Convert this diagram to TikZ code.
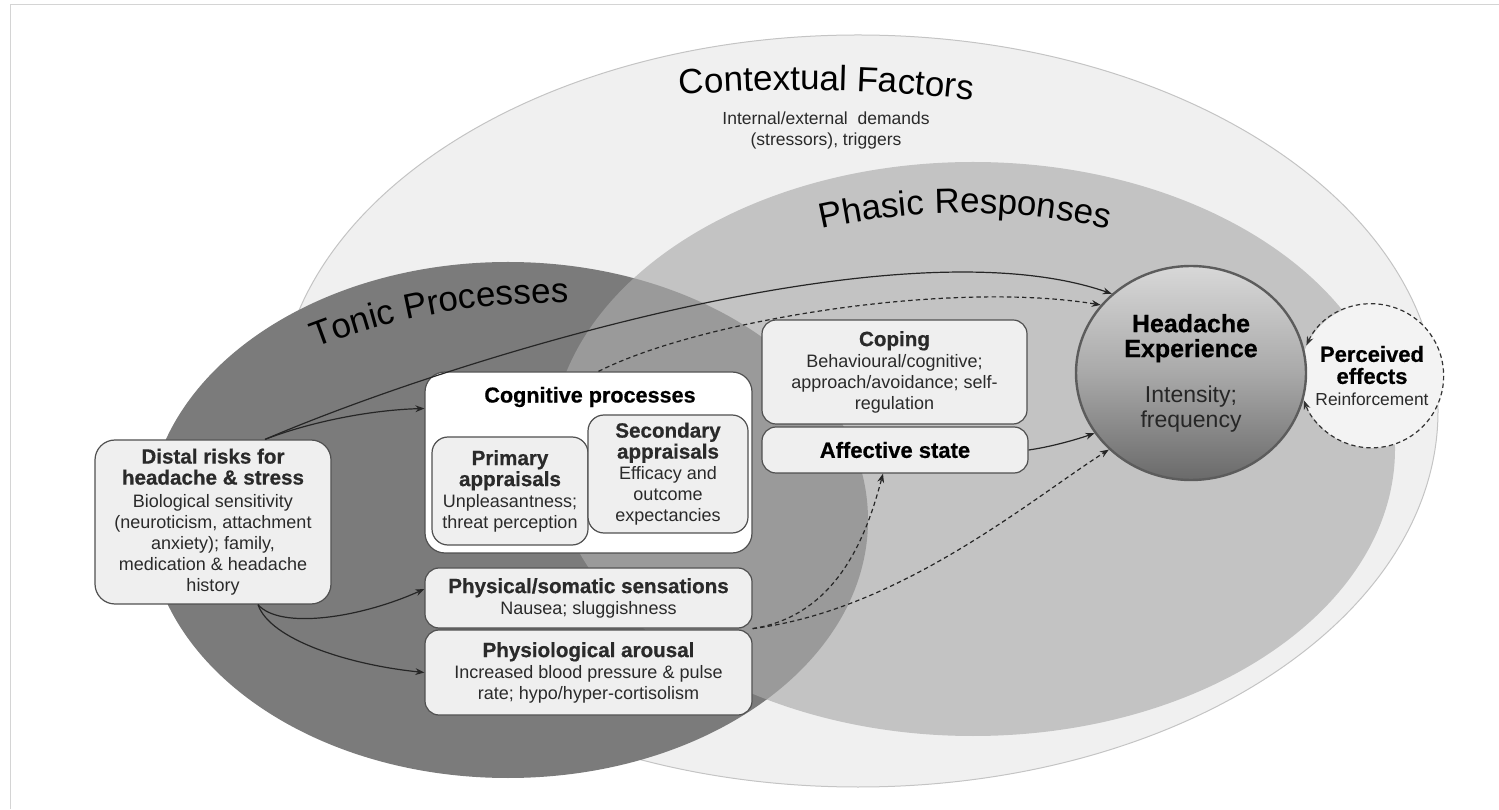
\documentclass[tikz,border=0pt]{standalone}
\usepackage{fontspec}
\setmainfont{Liberation Sans}[BoldFeatures={FakeBold=0.6}]
\usetikzlibrary{shapes.geometric,arrows.meta,decorations.text,calc}

\definecolor{framec}{HTML}{D4D4D4}
\definecolor{ctxfill}{HTML}{F0F0F0}
\definecolor{ctxline}{HTML}{C4C4C4}
\definecolor{phasicc}{HTML}{ABABAB}
\definecolor{tonicc}{HTML}{7B7B7B}
\definecolor{boxfill}{HTML}{EFEFEF}
\definecolor{boxline}{HTML}{505050}
\definecolor{bodytxt}{HTML}{2A2A2A}
\definecolor{hdtop}{HTML}{D8D8D8}
\definecolor{hdmid}{HTML}{A9A9A9}
\definecolor{hdbot}{HTML}{6A6A6A}
\definecolor{hdline}{HTML}{5C5C5C}
\definecolor{pefill}{HTML}{F3F3F3}

\newcommand\dgbody{\fontsize{9pt}{10.5pt}\selectfont}
\newcommand\dghead{\fontsize{10.3pt}{10.5pt}\selectfont\bfseries}
\newcommand\dgtitle{\fontsize{17.5pt}{20pt}\selectfont}

\begin{document}
\begin{tikzpicture}[x=0.5pt,y=0.5pt,
  box/.style={draw=boxline, line width=0.6pt, fill=boxfill, rounded corners=7pt,
    inner sep=0pt, align=center, font=\dgbody, text=bodytxt},
  arr/.style={-{Stealth[length=4.5pt,width=3.4pt]}, line width=0.6pt, draw=black!85},
  darr/.style={arr, dash pattern=on 2.2pt off 1.6pt},
  arctitle/.style={decorate, decoration={text along path, text align=center, text={#1}}}
]
\useasboundingbox (0,0) rectangle (1499,809);

% page frame
\draw[framec, line width=0.6pt] (10.5,0) -- (10.5,804.5) -- (1499,804.5);

% nested context ellipses
\filldraw[fill=ctxfill, draw=ctxline, line width=0.5pt] (858,398) ellipse [x radius=580, y radius=376];
\fill[tonicc] (508,289) ellipse [x radius=360, y radius=258];
\fill[phasicc, fill opacity=0.65] (973,360) ellipse [x radius=422, y radius=287];

% curved region titles
\path[arctitle={|\dgtitle\color{black}|Contextual Factors}] (800,-781) ++(101:1500) arc[start angle=101, end angle=77, radius=1500];
\path[arctitle={|\dgtitle\color{black}|Phasic Responses}] (965,-54) ++(110:650) arc[start angle=110, end angle=70, radius=650];
\path[arctitle={|\dgtitle\color{black}|Tonic Processes}] (555,-159) ++(125:665) arc[start angle=125, end angle=75, radius=665];

\node[align=center, font=\fontsize{8.75pt}{10.5pt}\selectfont, text=bodytxt] (ctxsub) at (826,678.5)
  {Internal/external~ demands\\(stressors), triggers};

% boxes
\node[box, minimum width=118pt, minimum height=82pt, rounded corners=10pt] (dist) at (213,287)
  {\dghead Distal risks for\\\dghead headache \& stress\\[1pt]\dgbody Biological sensitivity\\(neuroticism, attachment\\anxiety); family,\\medication \& headache\\history};

\node[box, fill=white, rounded corners=10pt, minimum width=163.5pt, minimum height=90.5pt] (cog) at (588.5,346.5) {};
\node[font=\fontsize{10.8pt}{12pt}\selectfont\bfseries] (cogt) at (590,412) {Cognitive processes};
\node[box, rounded corners=8pt, minimum width=78pt, minimum height=54pt] (prim) at (510,318)
  {\dghead Primary\\\dghead appraisals\\Unpleasantness;\\threat perception};
\node[box, rounded corners=8pt, minimum width=80pt, minimum height=59pt] (sec) at (668,335)
  {\dghead Secondary\\\dghead appraisals\\Efficacy and\\outcome\\expectancies};

\node[box, minimum width=163.5pt, minimum height=30pt] (phys) at (588.5,211)
  {\dghead Physical/somatic sensations\\Nausea; sluggishness};
\node[box, minimum width=163.5pt, minimum height=42.5pt] (physio) at (588.5,136.5)
  {\dghead Physiological arousal\\Increased blood pressure \& pulse\\rate; hypo/hyper-cortisolism};

\node[box, minimum width=132.5pt, minimum height=52pt] (cop) at (894.5,437)
  {\dghead Coping\\Behavioural/cognitive;\\approach/avoidance; self-\\regulation};
\node[box, minimum width=133pt, minimum height=23pt] (aff) at (895,359)
  {\fontsize{11pt}{12pt}\selectfont\bfseries\color{black} Affective state};

% outcome and feedback loop
\node[circle, fill=pefill, minimum size=72pt, inner sep=0pt, align=center,
  font=\fontsize{8.7pt}{11pt}\selectfont, text=bodytxt] (pe) at (1372,433)
  {\fontsize{11pt}{11pt}\selectfont\bfseries\color{black} Perceived\\\fontsize{11pt}{11pt}\selectfont\bfseries\color{black} effects\\Reinforcement};
\node[ellipse, draw=hdline, line width=1.2pt, top color=hdtop, bottom color=hdbot, middle color=hdmid,
  minimum width=115pt, minimum height=107pt, inner sep=0pt, align=center,
  font=\fontsize{11.5pt}{12.5pt}\selectfont, text=black!85] (hd) at (1191,436)
  {\fontsize{12.5pt}{13pt}\selectfont\bfseries\color{black} Headache\\\fontsize{12.5pt}{13pt}\selectfont\bfseries\color{black} Experience\\[10pt]Intensity;\\frequency};
\draw[dash pattern=on 2.2pt off 1.6pt, line width=0.6pt, draw=black!80,
  {Stealth[length=4.5pt,width=3.4pt]}-{Stealth[length=4.5pt,width=3.4pt]}]
  (pe.155) arc[start angle=155, end angle=-160, radius=36pt];

% connectors
\draw[arr] ([xshift=26pt]dist.north) .. controls (310,387) and (370,399) .. ([yshift=27pt]cog.west);
\draw[arr] ([xshift=26pt]dist.north) .. controls (450,449) and (900,589) .. (hd.135);
\draw[darr] ([xshift=5pt]cog.north) .. controls (700,489) and (950,529) .. (hd.143);
\draw[arr] ([xshift=22.5pt]dist.south) .. controls (280,179) and (360,191) .. ([yshift=4.5pt]phys.west);
\draw[arr] ([xshift=22.5pt]dist.south) .. controls (270,169) and (350,144) .. (physio.west);
\draw[darr] (phys.south east) .. controls (840,194) and (868,279) .. ([xshift=-6pt]aff.south);
\draw[darr] (phys.south east) .. controls (900,199) and (1030,309) .. (hd.223);
\draw[arr] (aff.east) .. controls (1050,362) and (1075,369) .. (hd.212);
\end{tikzpicture}
\end{document}
